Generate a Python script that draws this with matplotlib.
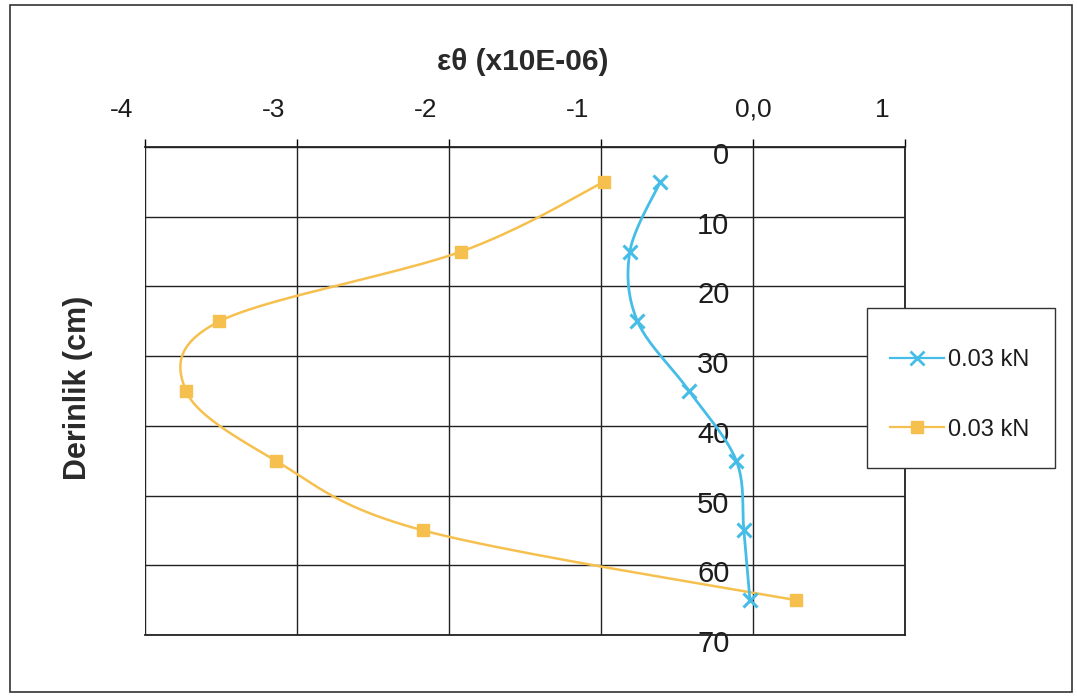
import numpy as np
import matplotlib
matplotlib.use("Agg")
import matplotlib.pyplot as plt
from matplotlib.transforms import ScaledTranslation
from matplotlib.lines import Line2D

# Measured circumferential strain (x10E-06) against depth (cm)
depth = [5, 15, 25, 35, 45, 55, 65]
strain_a = [-0.61, -0.81, -0.76, -0.42, -0.11, -0.06, -0.02]
strain_b = [-0.98, -1.92, -3.51, -3.73, -3.14, -2.17, 0.28]
series_labels = ["0.03 kN", "0.03 kN"]

x_ticks = [-4, -3, -2, -1, 0, 1]
x_tick_labels = ["-4", "-3", "-2", "-1", "0,0", "1"]
y_ticks = [0, 10, 20, 30, 40, 50, 60, 70]

BLUE = "#45bde6"
ORANGE = "#f6c04f"
INK = "#1c1c1c"
FONT = "Liberation Sans"

W, H = 1077, 699
fig = plt.figure(figsize=(W / 100, H / 100), dpi=100)
plt.rcParams["font.family"] = [FONT, "DejaVu Sans"]

# plot area in pixels
L, R, T, B = 145, 905, 147, 635
ax = fig.add_axes([L / W, 1 - B / H, (R - L) / W, (B - T) / H])
ax.set_xlim(-4, 1)
ax.set_ylim(70, 0)

# x axis on top with outward ticks, y labels sitting next to the zero line
ax.xaxis.set_ticks_position("top")
ax.xaxis.set_label_position("top")
ax.set_xticks(x_ticks)
ax.set_xticklabels(x_tick_labels)
ax.set_yticks(y_ticks)
ax.tick_params(axis="x", which="major", direction="out", length=6, width=1,
               labelsize=19, pad=12, top=True, bottom=False,
               labeltop=True, labelbottom=False)
ax.tick_params(axis="y", length=0, labelsize=21, pad=17)
ax.spines["left"].set_position(("data", 0))
ax.spines["left"].set_visible(False)
for s in ("top", "right", "bottom"):
    ax.spines[s].set_linewidth(1.3)
    ax.spines[s].set_color("#222222")
ax.grid(True, color="#222222", linewidth=1.0)
ax.set_axisbelow(True)

for lbl, val in zip(ax.get_xticklabels(), x_ticks):
    if val != 0:
        lbl.set_transform(lbl.get_transform() +
                          ScaledTranslation(-0.23, 0, fig.dpi_scale_trans))
for lbl in ax.get_yticklabels():
    lbl.set_transform(lbl.get_transform() +
                      ScaledTranslation(0, -0.06, fig.dpi_scale_trans))
for lbl in ax.get_xticklabels() + ax.get_yticklabels():
    lbl.set_color(INK)


def smooth_curve(xs, ys, steps=24):
    """Excel-style smoothed line (cardinal spline computed in screen space)."""
    pts = ax.transData.transform(np.column_stack([xs, ys]))
    p = np.vstack([pts[0], pts, pts[-1]])
    out = []
    for i in range(1, len(p) - 2):
        p0, p1, p2, p3 = p[i - 1], p[i], p[i + 1], p[i + 2]
        c1 = p1 + (p2 - p0) / 6.0
        c2 = p2 - (p3 - p1) / 6.0
        t = np.linspace(0, 1, steps)[:, None]
        seg = ((1 - t) ** 3) * p1 + 3 * ((1 - t) ** 2) * t * c1 \
            + 3 * (1 - t) * t ** 2 * c2 + t ** 3 * p2
        out.append(seg if i == 1 else seg[1:])
    curve = ax.transData.inverted().transform(np.vstack(out))
    return curve[:, 0], curve[:, 1]


cx, cy = smooth_curve(strain_b, depth)
ax.plot(cx, cy, color=ORANGE, linewidth=1.8, zorder=3)
ax.plot(strain_b, depth, linestyle="none", marker="s", markersize=8,
        color=ORANGE, zorder=4)

cx, cy = smooth_curve(strain_a, depth)
ax.plot(cx, cy, color=BLUE, linewidth=2.0, zorder=5)
ax.plot(strain_a, depth, linestyle="none", marker="x", markersize=10,
        markeredgewidth=2.2, color=BLUE, zorder=6)

# legend box (drawn separately so its height can be set freely)
lx0, ly0, lx1, ly1 = 867, 308, 1055, 468
fig.add_artist(plt.Rectangle((lx0 / W, 1 - ly1 / H), (lx1 - lx0) / W,
                             (ly1 - ly0) / H, transform=fig.transFigure,
                             facecolor="white", edgecolor="#333333",
                             linewidth=1.0, zorder=5))
handles = [
    Line2D([], [], color=BLUE, linewidth=1.6, marker="x", markersize=10,
           markeredgewidth=2.0),
    Line2D([], [], color=ORANGE, linewidth=1.6, marker="s", markersize=9),
]
leg = fig.legend(handles, series_labels, loc="center",
                 bbox_to_anchor=(960 / W, 1 - 395 / H), fontsize=17,
                 frameon=False, labelspacing=2.0,
                 handlelength=2.25, handletextpad=0.2, borderaxespad=0)
leg.set_zorder(6)
for t in leg.get_texts():
    t.set_color(INK)

fig.text(523 / W, 1 - 62 / H, "εθ (x10E-06)", fontsize=21.5,
         fontweight="bold", ha="center", va="center", color="#2a2a2a")
fig.text(78 / W, 1 - 388 / H, "Derinlik (cm)", fontsize=22,
         fontweight="bold", ha="center", va="center", rotation=90,
         color="#2a2a2a")

# chart border
bx0, by0, bx1, by1 = 10 / W, 1 - 692 / H, 1072 / W, 1 - 5 / H
fig.add_artist(plt.Rectangle((bx0, by0), bx1 - bx0, by1 - by0,
                             transform=fig.transFigure, fill=False,
                             edgecolor="#333333", linewidth=1.2))

fig.savefig("out.png", dpi=100)
